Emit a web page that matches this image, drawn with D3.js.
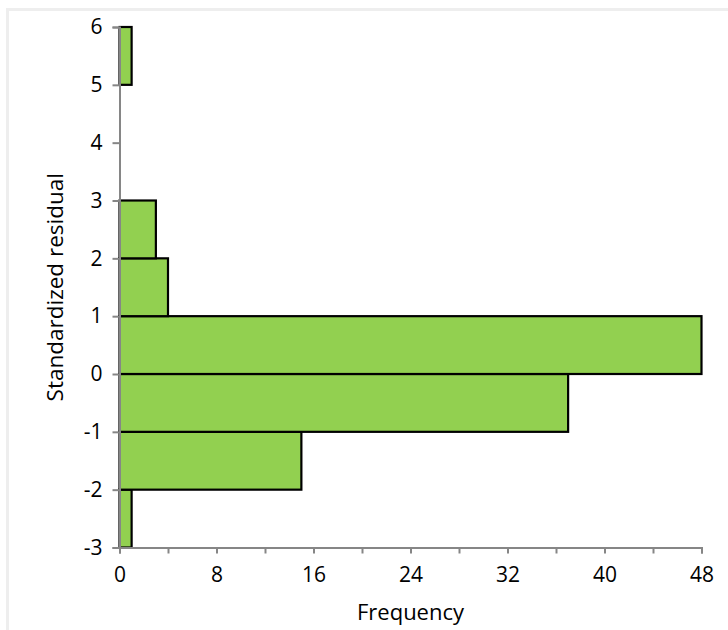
<!DOCTYPE html>
<html>
<head>
<meta charset="utf-8">
<script src="https://cdn.jsdelivr.net/npm/d3@7"></script>
<style>
  html, body { margin: 0; padding: 0; background: #ffffff; }
  svg { display: block; }
  text { font-family: "Open Sans", "DejaVu Sans", sans-serif; fill: #000; }
</style>
</head>
<body>
<svg id="chart" width="728" height="630"></svg>
<script>
// Data: bins of standardized residual and their frequencies
const binStarts = [-3, -2, -1, 0, 1, 2, 3, 4, 5];
const binEnds   = [-2, -1, 0, 1, 2, 3, 4, 5, 6];
const frequencies = [1, 15, 37, 48, 4, 3, 0, 0, 1];
const xTickValues = [0, 8, 16, 24, 32, 40, 48];
const yTickValues = [-3, -2, -1, 0, 1, 2, 3, 4, 5, 6];
const xTitle = "Frequency";
const yTitle = "Standardized residual";

const svg = d3.select("#chart");
const margin = { left: 119.5, right: 26.5, top: 27, bottom: 82.5 };
const W = 728, H = 630;

// chart border
svg.append("rect")
  .attr("x", 7.5).attr("y", 9.5)
  .attr("width", W + 10).attr("height", H + 10)
  .attr("fill", "none").attr("stroke", "#eeeeee").attr("stroke-width", 3);

const x = d3.scaleLinear().domain([0, 48]).range([margin.left, W - margin.right]);
const y = d3.scaleLinear().domain([-3, 6]).range([H - margin.bottom, margin.top]);

const bins = binStarts.map((s, i) => ({ lo: s, hi: binEnds[i], n: frequencies[i] })).filter(d => d.n > 0);

svg.append("g").selectAll("rect")
  .data(bins)
  .join("rect")
  .attr("x", x(0))
  .attr("y", d => y(d.hi))
  .attr("width", d => x(d.n) - x(0))
  .attr("height", d => y(d.lo) - y(d.hi))
  .attr("fill", "#92D050")
  .attr("stroke", "#000")
  .attr("stroke-width", 2.2);

// X axis
const xAxis = d3.axisBottom(x)
  .tickValues(d3.range(0, 49, 4))
  .tickSize(6)
  .tickPadding(14)
  .tickFormat(d => xTickValues.includes(d) ? String(d) : "");
const gx = svg.append("g").attr("transform", `translate(0,${y(-3)})`).call(xAxis);
gx.select(".domain").attr("stroke", "#868686").attr("stroke-width", 2);
gx.selectAll(".tick line").attr("stroke", "#868686").attr("stroke-width", 2);
gx.selectAll(".tick text").attr("font-size", 21).attr("fill", "#000");

// Y axis
const yAxis = d3.axisLeft(y)
  .tickValues(yTickValues)
  .tickSize(7)
  .tickPadding(10)
  .tickFormat(d => String(d));
const gy = svg.append("g").attr("transform", `translate(${x(0)},0)`).call(yAxis);
gy.select(".domain").attr("stroke", "#868686").attr("stroke-width", 2);
gy.selectAll(".tick line").attr("stroke", "#868686").attr("stroke-width", 2);
gy.selectAll(".tick text").attr("font-size", 21).attr("fill", "#000");

// Titles
svg.append("text")
  .attr("x", (x(0) + x(48)) / 2)
  .attr("y", 620)
  .attr("text-anchor", "middle")
  .attr("font-size", 22)
  .text(xTitle);

svg.append("text")
  .attr("transform", `translate(63,${(y(-3) + y(6)) / 2}) rotate(-90)`)
  .attr("text-anchor", "middle")
  .attr("font-size", 22.5)
  .text(yTitle);
</script>
</body>
</html>
